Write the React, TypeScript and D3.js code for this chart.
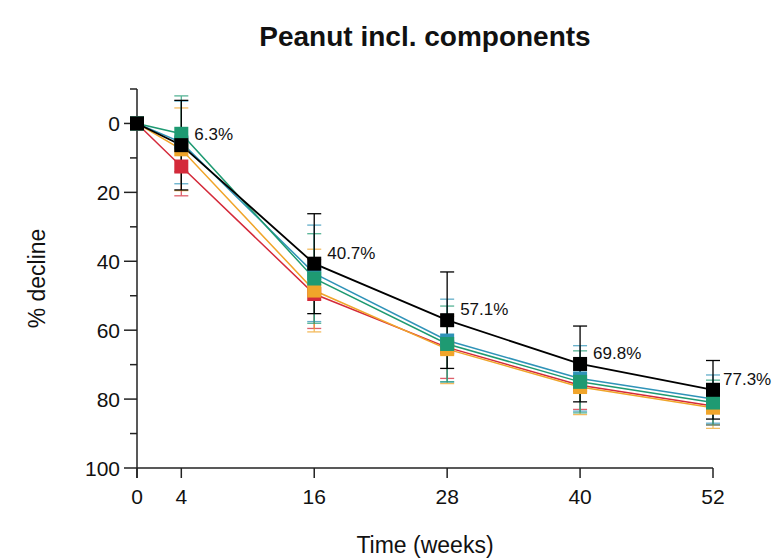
import React from 'react';
import * as d3 from 'd3';

const weeks = [0, 4, 16, 28, 40, 52];
const xTicks = [0, 4, 16, 28, 40, 52];
const yMajorTicks = [0, 20, 40, 60, 80, 100];
const yMinorTicks = [-10, 10, 30, 50, 70, 90];

const seriesNames = ['Red', 'Orange', 'Teal', 'Green', 'Black'];
const seriesColors = ['#d42a3a', '#f0a52a', '#2f93b8', '#1e9a72', '#000000'];
const redMean = [0, 12.5, 49.5, 65, 76, 82];
const redSd = [0, 8.5, 10, 9, 7, 5.5];
const orangeMean = [0, 7.5, 48.5, 65.5, 76.5, 82.5];
const orangeSd = [0, 12, 12, 10, 8, 6];
const tealMean = [0, 5.5, 43.5, 63, 74, 80];
const tealSd = [0, 12, 14, 12, 9.5, 7];
const greenMean = [0, 3, 45, 64, 75, 81];
const greenSd = [0, 11, 13, 11, 9, 6.5];
const blackMean = [0, 6.3, 40.7, 57.1, 69.8, 77.3];
const blackSd = [0, 13, 14.5, 14, 11, 8.5];
const blackLabels = ['', '6.3%', '40.7%', '57.1%', '69.8%', '77.3%'];

const means = [redMean, orangeMean, tealMean, greenMean, blackMean];
const sds = [redSd, orangeSd, tealSd, greenSd, blackSd];

const FONT = '"Liberation Sans", Arial, sans-serif';

export default function App() {
  const x = d3.scaleLinear().domain([0, 52]).range([137, 713]);
  const y = d3.scaleLinear().domain([-10, 100]).range([89, 468]);
  const line = d3.line<number>().x((_, i) => x(weeks[i])).y((d) => y(d));

  return (
    <svg width={777} height={560} style={{ position: 'absolute', left: 0, top: 0, background: '#fff' }} fontFamily={FONT}>
      <text x={425} y={46} textAnchor="middle" fontSize={28} fontWeight="bold" fill="#111">
        Peanut incl. components
      </text>

      {/* y axis */}
      <line x1={x(0)} x2={x(0)} y1={y(-10)} y2={y(100) + 10} stroke="#222" strokeWidth={1.5} />
      {yMajorTicks.map((t) => (
        <g key={'ym' + t}>
          <line x1={x(0) - 13} x2={x(0)} y1={y(t)} y2={y(t)} stroke="#222" strokeWidth={1.5} />
          <text x={x(0) - 17} y={y(t) + 8} textAnchor="end" fontSize={21} fill="#111">{t}</text>
        </g>
      ))}
      {yMinorTicks.map((t) => (
        <line key={'yn' + t} x1={x(0) - 7} x2={x(0)} y1={y(t)} y2={y(t)} stroke="#222" strokeWidth={1.5} />
      ))}
      <text transform={`translate(45,${y(45)}) rotate(-90)`} textAnchor="middle" fontSize={23} fill="#111">
        % decline
      </text>

      {/* x axis */}
      <line x1={x(0)} x2={x(52)} y1={y(100)} y2={y(100)} stroke="#222" strokeWidth={1.5} />
      {xTicks.map((t) => (
        <g key={'xt' + t}>
          <line x1={x(t)} x2={x(t)} y1={y(100)} y2={y(100) + 10} stroke="#222" strokeWidth={1.5} />
          <text x={x(t)} y={y(100) + 36} textAnchor="middle" fontSize={21} fill="#111">{t}</text>
        </g>
      ))}
      <text x={425} y={553} textAnchor="middle" fontSize={23} fill="#111">Time (weeks)</text>

      {/* series */}
      {means.map((m, si) => (
        <g key={seriesNames[si]}>
          <path d={line(m) || ''} fill="none" stroke={seriesColors[si]} strokeWidth={si === 4 ? 1.8 : 1.5} />
          {m.map((v, i) =>
            sds[si][i] > 0 ? (
              <g key={'e' + i} stroke={seriesColors[si]} strokeWidth={1.3} opacity={si === 4 ? 1 : 0.75}>
                <line x1={x(weeks[i])} x2={x(weeks[i])} y1={y(v - sds[si][i])} y2={y(v + sds[si][i])} />
                <line x1={x(weeks[i]) - 7} x2={x(weeks[i]) + 7} y1={y(v - sds[si][i])} y2={y(v - sds[si][i])} />
                <line x1={x(weeks[i]) - 7} x2={x(weeks[i]) + 7} y1={y(v + sds[si][i])} y2={y(v + sds[si][i])} />
              </g>
            ) : null
          )}
        </g>
      ))}
      {means.map((m, si) => (
        <g key={'mk' + seriesNames[si]}>
          {m.map((v, i) => (
            <rect key={i} x={x(weeks[i]) - 7} y={y(v) - 7} width={14} height={14} fill={seriesColors[si]} />
          ))}
        </g>
      ))}
      {blackMean.map((v, i) =>
        blackLabels[i] ? (
          <text key={'lb' + i} x={x(weeks[i]) + (i === 5 ? 10 : 13)} y={y(v) - 5} fontSize={17} fill="#111">
            {blackLabels[i]}
          </text>
        ) : null
      )}
    </svg>
  );
}
